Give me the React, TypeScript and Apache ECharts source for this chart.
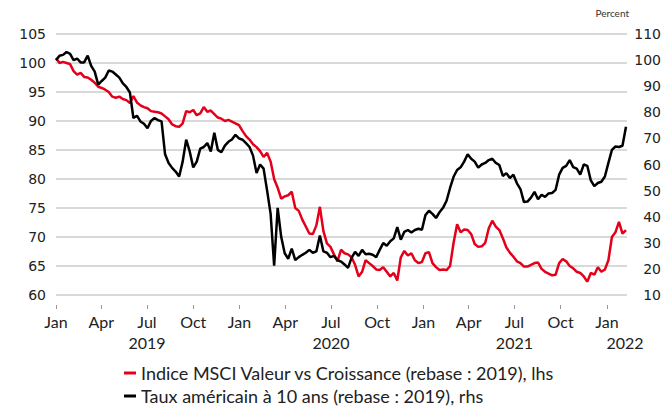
import React, { useEffect, useRef } from "react";
import * as echarts from "echarts";

// Weekly observations starting 2019-01-01
const startDate = "2019-01-01";
const axisEndDate = "2022-02-10";

// Indice MSCI Valeur vs Croissance (rebase : 2019) – left axis
const msciValueVsGrowth = [
  100.8, 100.0, 100.2, 100.0, 99.8, 98.6, 98.0, 98.3, 97.6, 97.5,
  97.1, 96.6, 95.9, 95.7, 95.4, 95.0, 94.2, 94.0, 94.2, 93.8,
  93.6, 93.1, 94.3, 93.2, 92.7, 92.4, 92.2, 91.7, 91.6, 91.5,
  91.3, 90.8, 90.3, 89.4, 89.1, 89.0, 89.6, 91.7, 91.5, 91.9,
  91.0, 91.3, 92.4, 91.6, 91.8, 91.2, 90.6, 90.4, 90.0, 90.2,
  89.9, 89.6, 89.3, 88.3, 87.4, 86.8, 86.0, 85.5, 84.8, 83.8,
  84.5, 83.0, 80.0, 78.5, 76.6, 77.0, 77.2, 77.8, 75.0, 74.5,
  73.0, 71.8, 70.6, 70.5, 72.0, 75.2, 71.0, 68.9, 68.3, 67.0,
  65.8, 67.8, 67.2, 67.0, 66.5, 65.2, 63.2, 64.0, 66.0, 65.5,
  65.0, 64.4, 64.3, 64.8, 64.0, 63.2, 63.8, 62.5, 66.5, 67.6,
  66.8, 67.2, 66.0, 65.5, 65.7, 67.2, 67.4, 65.5, 64.8, 64.3,
  64.4, 64.3, 65.0, 69.0, 72.2, 70.8, 71.3, 71.2, 70.5, 68.8,
  68.3, 68.4, 69.0, 71.5, 72.8, 71.8, 71.2, 69.8, 68.2, 67.3,
  66.6, 65.8, 65.5, 64.9, 64.9, 65.2, 65.5, 65.6, 64.5, 64.0,
  63.7, 63.4, 63.5, 65.5, 66.2, 65.8, 65.0, 64.6, 64.0, 63.8,
  63.2, 62.3, 63.8, 63.5, 64.8, 64.0, 64.4, 66.0, 70.0, 70.8,
  72.6, 70.6, 71.2,
];

// Taux américain à 10 ans (rebase : 2019) – right axis
const us10yRate = [
  100.0, 101.7, 102.0, 103.1, 102.4, 100.0, 100.6, 99.1, 99.1, 101.7,
  97.8, 95.6, 90.6, 92.0, 93.3, 96.0, 95.6, 94.5, 93.3, 91.1,
  89.7, 87.6, 77.8, 78.7, 76.5, 75.6, 73.9, 76.7, 77.8, 77.0,
  76.5, 63.9, 60.6, 58.7, 57.3, 55.4, 61.1, 69.5, 65.0, 58.9,
  61.1, 66.1, 66.7, 68.2, 65.0, 72.2, 65.6, 64.7, 67.2, 68.7,
  69.6, 71.4, 70.0, 69.5, 68.2, 66.7, 63.4, 56.7, 60.0, 58.4,
  50.0, 41.1, 21.2, 43.4, 32.3, 26.0, 23.9, 27.8, 23.4, 24.5,
  25.4, 26.2, 27.3, 26.2, 26.7, 32.8, 26.7, 26.2, 24.5, 25.0,
  23.4, 22.8, 21.7, 20.4, 24.2, 26.5, 25.0, 27.3, 25.6, 25.8,
  25.4, 24.5, 27.3, 29.9, 28.9, 30.6, 31.7, 36.0, 31.2, 34.2,
  34.9, 33.9, 34.9, 35.4, 35.0, 40.6, 42.3, 41.1, 39.5, 41.7,
  43.4, 46.1, 51.0, 55.3, 57.9, 58.9, 61.1, 63.9, 62.2, 61.1,
  58.8, 60.0, 60.6, 61.7, 62.2, 60.6, 59.8, 55.6, 56.7, 54.8,
  56.1, 52.8, 50.6, 45.6, 45.8, 47.3, 49.5, 46.7, 48.4, 47.6,
  48.9, 49.1, 50.3, 56.1, 58.7, 59.5, 61.7, 59.0, 58.4, 56.1,
  60.0, 59.5, 53.9, 51.7, 52.9, 53.4, 55.4, 60.6, 65.6, 66.9,
  66.7, 67.2, 74.5,
];

const quarterTickDates = [
  "2019-01-01", "2019-04-01", "2019-07-01", "2019-10-01",
  "2020-01-01", "2020-04-01", "2020-07-01", "2020-10-01",
  "2021-01-01", "2021-04-01", "2021-07-01", "2021-10-01",
  "2022-01-01",
];
const quarterTickLabels = [
  "Jan", "Apr", "Jul", "Oct",
  "Jan", "Apr", "Jul", "Oct",
  "Jan", "Apr", "Jul", "Oct",
  "Jan",
];
const yearLabelDates = ["2019-07-01", "2020-07-01", "2021-07-01", "2022-02-06"];
const yearLabels = ["2019", "2020", "2021", "2022"];

const seriesNames = [
  "Indice MSCI Valeur vs Croissance (rebase : 2019), lhs",
  "Taux américain à 10 ans (rebase : 2019), rhs",
];

const DAY = 24 * 3600 * 1000;
const ts = (d: string) => Date.parse(d + "T00:00:00Z");

export default function App() {
  const ref = useRef<HTMLDivElement>(null);

  useEffect(() => {
    document.body.style.margin = "0";
    if (!ref.current) return;
    const chart = echarts.init(ref.current, null, { renderer: "svg" });

    const t0 = ts(startDate);
    const redData = msciValueVsGrowth.map((v, i) => [t0 + i * 7 * DAY, v]);
    const blackData = us10yRate.map((v, i) => [t0 + i * 7 * DAY, v]);

    const tickTs = quarterTickDates.map(ts);
    const tickLabelMap: Record<string, string> = {};
    tickTs.forEach((t, i) => (tickLabelMap[String(t)] = quarterTickLabels[i]));
    const yearTs = yearLabelDates.map(ts);
    const yearLabelMap: Record<string, string> = {};
    yearTs.forEach((t, i) => (yearLabelMap[String(t)] = yearLabels[i]));

    const xFont = "Lato, 'Open Sans', sans-serif";
    const legendBase = {
      orient: "vertical",
      left: 124,
      itemWidth: 12,
      itemHeight: 3,
      icon: "rect",
      padding: 0,
      textStyle: { fontFamily: xFont, fontSize: 18, color: "#222" },
    };

    chart.setOption({
      animation: false,
      backgroundColor: "#ffffff",
      grid: { left: 56, right: 36, top: 34, bottom: 113, containLabel: false },
      graphic: [
        {
          type: "text",
          right: 35,
          top: 8,
          style: {
            text: "Percent",
            fill: "#333",
            font: "10px Lato, 'Open Sans', sans-serif",
          },
        },
      ],
      legend: [
        { ...legendBase, top: 364, data: [seriesNames[0]] },
        { ...legendBase, top: 387, data: [seriesNames[1]] },
      ],
      xAxis: [
        {
          type: "value",
          min: t0,
          max: ts(axisEndDate),
          offset: 10,
          axisLine: { show: false },
          splitLine: { show: false },
          axisTick: {
            show: true,
            length: 4,
            lineStyle: { color: "#999", width: 1 },
            customValues: tickTs,
          },
          axisLabel: {
            customValues: tickTs,
            margin: 8,
            fontFamily: xFont,
            fontSize: 16,
            color: "#222",
            formatter: (value: number) => tickLabelMap[String(value)] ?? "",
          },
        },
        {
          type: "value",
          position: "bottom",
          min: t0,
          max: ts(axisEndDate),
          offset: 10,
          axisLine: { show: false },
          splitLine: { show: false },
          axisTick: { show: false },
          axisLabel: {
            customValues: yearTs,
            margin: 29,
            fontFamily: xFont,
            fontSize: 16,
            color: "#222",
            formatter: (value: number) => yearLabelMap[String(value)] ?? "",
          },
        },
      ],
      yAxis: [
        {
          type: "value",
          min: 60,
          max: 105,
          interval: 5,
          position: "left",
          axisLine: { show: false },
          axisTick: { show: false },
          splitLine: { show: true, lineStyle: { color: "#d9d9d9", width: 2 } },
          axisLabel: {
            margin: 10,
            fontFamily: "'DejaVu Sans', sans-serif",
            fontSize: 14,
            color: "#222",
          },
        },
        {
          type: "value",
          min: 10,
          max: 110,
          interval: 10,
          position: "right",
          axisLine: { show: false },
          axisTick: { show: false },
          splitLine: { show: false },
          axisLabel: {
            margin: 34,
            align: "right",
            fontFamily: "'DejaVu Sans', sans-serif",
            fontSize: 14,
            color: "#222",
          },
        },
      ],
      series: [
        {
          name: seriesNames[0],
          type: "line",
          xAxisIndex: 0,
          yAxisIndex: 0,
          data: redData,
          showSymbol: false,
          symbol: "none",
          color: "#e4001b",
          lineStyle: { color: "#e4001b", width: 2.5 },
        },
        {
          name: seriesNames[1],
          type: "line",
          xAxisIndex: 0,
          yAxisIndex: 1,
          data: blackData,
          showSymbol: false,
          symbol: "none",
          color: "#000000",
          lineStyle: { color: "#000000", width: 2.5 },
        },
      ],
    });

    return () => chart.dispose();
  }, []);

  return <div ref={ref} style={{ width: 664, height: 408 }} />;
}
